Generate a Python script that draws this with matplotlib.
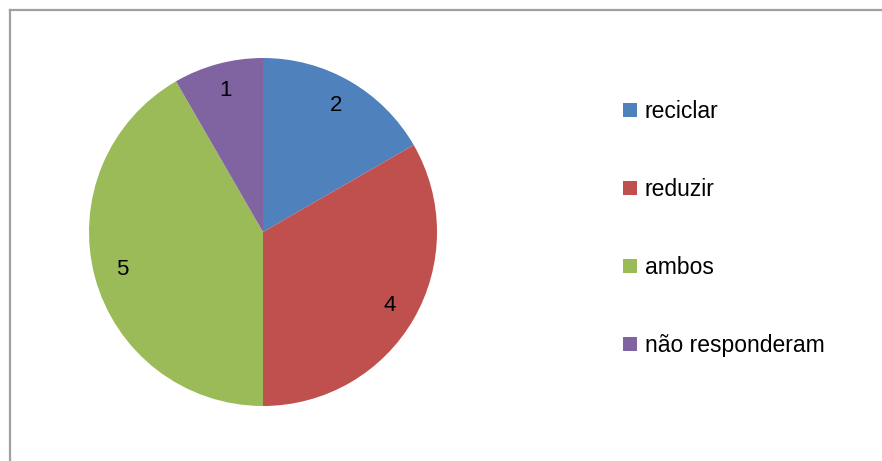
import matplotlib.pyplot as plt
from matplotlib.lines import Line2D
from matplotlib.patches import Patch

labels = ['reciclar', 'reduzir', 'ambos', 'não responderam']
values = [2, 4, 5, 1]
colors = ['#4F81BD', '#C0504D', '#9BBB59', '#8064A2']

W, H = 882, 461
fig = plt.figure(figsize=(W / 100, H / 100), dpi=100)
plt.rcParams['font.family'] = ['Liberation Sans', 'DejaVu Sans']

# chart frame (only top and left edges visible)
fig.add_artist(Line2D([10 / W, 10 / W], [0, 1 - 10 / H], color='#a0a0a0', lw=1.6))
fig.add_artist(Line2D([10 / W, 1], [1 - 10 / H, 1 - 10 / H], color='#a0a0a0', lw=1.6))

cx, cy, r = 263, 232, 174
ax = fig.add_axes([(cx - r) / W, (H - cy - r) / H, 2 * r / W, 2 * r / H])
wedges, texts = ax.pie(values, colors=colors, startangle=90, counterclock=False,
                       labels=[str(v) for v in values], labeldistance=0.84,
                       textprops={'fontsize': 16, 'color': 'black'})
for t in texts:
    t.set_ha('center')
    t.set_va('center')
ax.set_xlim(-1, 1)
ax.set_ylim(-1, 1)
ax.set_aspect('equal')

handles = [Patch(facecolor=c, edgecolor='none') for c in colors]
fig.legend(handles, labels, loc='upper left', bbox_to_anchor=(614 / W, 1 - 91 / H),
           frameon=False, fontsize=16.5, handlelength=0.6, handleheight=0.6,
           handletextpad=0.35, labelspacing=2.4, borderaxespad=0)

fig.savefig('out.png', dpi=100)
